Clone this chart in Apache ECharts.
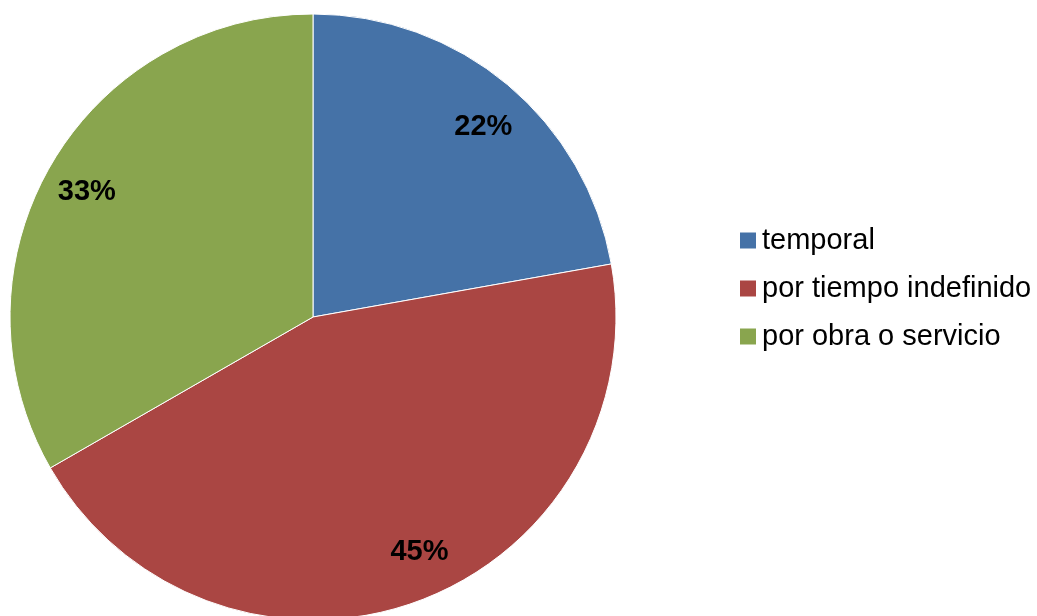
<!DOCTYPE html>
<html><head><meta charset="utf-8">
<script src="https://cdn.jsdelivr.net/npm/echarts@6/dist/echarts.min.js"></script>
<style>html,body{margin:0;padding:0;background:#fff}#c{width:1037px;height:616px}</style>
</head><body><div id="c"></div>
<script>
const categories = ['temporal', 'por tiempo indefinido', 'por obra o servicio'];
const values = [22.2, 44.5, 33.3];
const colors = ['#4572A7', '#AA4643', '#89A54E'];
const labelOffsets = [[4, 9], [18, -8], [-2, 5]];

const chart = echarts.init(document.getElementById('c'), null, {renderer: 'canvas'});
const data = categories.map((n, i) => ({name: n, value: values[i], itemStyle: {color: colors[i]}}));
chart.setOption({
  animation: false,
  legend: {
    orient: 'vertical', left: 738, top: 226, padding: 0,
    itemWidth: 18, itemHeight: 18, itemGap: 19,
    icon: 'rect',
    textStyle: {fontFamily: 'Liberation Sans, Arial', fontSize: 29, color: '#000', lineHeight: 29, padding: [0, 0, 0, 0]},
    data: categories
  },
  series: [{
    type: 'pie', center: [313, 317], radius: 303, startAngle: 90, clockwise: true,
    label: {show: false}, labelLine: {show: false},
    itemStyle: {borderColor: '#fff', borderWidth: 1},
    emphasis: {disabled: true},
    data: data
  }, {
    type: 'pie', center: [313, 317], radius: [231, 281], startAngle: 90, clockwise: true,
    silent: true, legendHoverLink: false,
    itemStyle: {color: 'transparent', borderWidth: 0},
    label: {show: true, position: 'inside', formatter: p => Math.round(p.value) + '%', fontFamily: 'Liberation Sans, Arial', fontWeight: 'bold', fontSize: 29, color: '#000'},
    labelLine: {show: false},
    emphasis: {disabled: true},
    data: categories.map((n, i) => ({name: n + ' ', value: values[i], label: {offset: labelOffsets[i]}}))
  }]
});
</script></body></html>
